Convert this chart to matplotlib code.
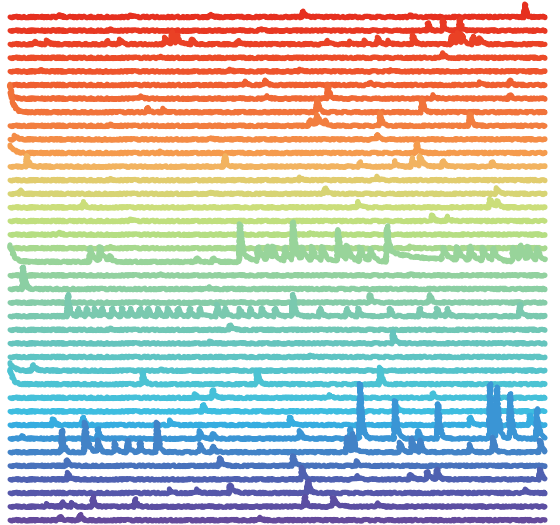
import numpy as np
import matplotlib
matplotlib.use("Agg")
import matplotlib.pyplot as plt
from matplotlib.colors import LinearSegmentedColormap

# ---------------- data: detected transients per cell (frame, amplitude, decay) -------------
n_frames = 536
cell00 = [(50, 2, 2), (120, 2, 2), (200, 3, 2), (293, 6, 2), (400, 2, 2), (515, 13, 1.5)]
cell01 = [(100, 2, 2), (250, 2, 2), (418, 8, 1.5), (433, 11, 1.5), (450, 12, 1.5)]
cell02 = [(25, 3, 2), (37, 4, 2), (97, 4, 2), (110, 5, 2), (155, 7, 3), (162, 12, 2), (167, 8, 3),
          (182, 5, 2), (228, 4, 2), (317, 4, 2), (340, 3, 2), (355, 4, 2), (368, 7, 2), (378, 4, 2),
          (403, 9, 2), (442, 9, 2), (447, 11, 2), (452, 9, 2), (463, 8, 2), (470, 6, 2)]
cell03 = [(150, 2, 2), (433, 5, 2)]
cell04 = [(30, 2, 2), (220, 2, 2), (290, 2, 2), (380, 2, 2)]
cell05 = [(235, 4, 2), (255, 5, 2), (360, 3, 2), (470, 3, 2), (500, 5, 2)]
cell06 = [(0, 6, 3), (130, 3, 2), (257, 3, 2), (318, 14, 2), (423, 4, 2), (500, 4, 2)]
cell07 = [(0, 28, 3), (137, 5, 2), (153, 4, 2), (307, 13, 2), (412, 13, 2)]
cell08 = [(100, 2, 2), (300, 6, 4), (307, 10, 3), (315, 5, 2), (370, 13, 2), (460, 12, 2)]
cell09 = [(5, 4, 3), (200, 2, 2), (367, 5, 2)]
cell10 = [(0, 8, 4), (150, 2, 2), (407, 10, 2)]
cell11 = [(17, 11, 2), (215, 11, 2), (350, 5, 2), (385, 6, 2), (402, 9, 3), (410, 10, 3),
          (433, 6, 2), (482, 5, 2)]
cell12 = [(100, 2, 2), (290, 3, 2), (367, 4, 2)]
cell13 = [(10, 4, 2), (200, 2, 2), (315, 6, 2), (487, 6, 2)]
cell14 = [(73, 6, 2), (348, 6, 2), (480, 8, 3), (487, 6, 2)]
cell15 = [(120, 2, 2), (422, 6, 2), (437, 5, 2)]
cell16 = [(50, 2, 2), (300, 2, 2)]
cell17 = [(100, 2, 2), (400, 2, 2)]
cell18 = [(0, 17, 4), (80, 14, 4), (90, 14, 4), (100, 5, 2), (187, 4, 2), (203, 4, 2),
          (230, 28, 2), (230, 10, 8), (248, 14, 4), (257, 14, 4), (263, 12, 4), (275, 14, 4),
          (283, 28, 2), (283, 10, 6), (292, 12, 4), (302, 14, 4), (312, 14, 4), (328, 22, 2),
          (328, 10, 6), (337, 14, 4), (350, 14, 4), (360, 12, 4), (377, 26, 2), (377, 10, 40),
          (433, 12, 4), (447, 13, 4), (460, 14, 4), (473, 13, 4), (483, 12, 4), (503, 14, 4),
          (510, 14, 4), (518, 13, 4), (527, 12, 4)]
cell19 = [(150, 2, 2), (400, 2, 2)]
cell20 = [(13, 22, 2), (200, 2, 2)]
cell21 = [(360, 8, 2), (420, 8, 2)]
cell22 = [(58, 22, 2), (68, 8, 2), (77, 8, 2), (85, 8, 2), (92, 8, 2), (102, 8, 2), (112, 8, 2),
          (120, 8, 2), (130, 8, 2), (138, 8, 2), (148, 8, 2), (158, 8, 2), (168, 8, 2), (180, 8, 2),
          (190, 8, 2), (207, 12, 2), (215, 8, 2), (230, 8, 2), (240, 8, 2), (252, 8, 2), (265, 8, 2),
          (283, 22, 2), (310, 8, 2), (337, 8, 2), (348, 8, 2), (380, 8, 2), (410, 8, 2), (427, 8, 2),
          (437, 8, 2), (510, 12, 2)]
cell23 = [(100, 2, 2), (220, 5, 2)]
cell24 = [(200, 2, 2), (383, 12, 2)]
cell25 = [(300, 2, 2)]
cell26 = [(0, 8, 4), (23, 6, 3), (150, 2, 2)]
cell27 = [(0, 15, 3), (133, 12, 2), (247, 14, 2), (370, 17, 2)]
cell28 = [(185, 4, 2), (203, 8, 2), (320, 3, 2), (423, 5, 2)]
cell29 = [(193, 7, 2), (387, 6, 2)]
cell30 = [(43, 6, 2), (73, 8, 2), (160, 5, 2), (280, 8, 2), (460, 8, 2), (520, 10, 2)]
cell31 = [(12, 3, 2), (88, 10, 2), (190, 8, 2), (203, 5, 2), (290, 8, 2), (340, 10, 2),
          (350, 55, 2), (385, 38, 2), (408, 8, 2), (428, 35, 2), (480, 55, 2), (487, 50, 2),
          (500, 45, 2), (527, 30, 2)]
cell32 = [(52, 22, 2), (75, 30, 3), (88, 12, 2), (105, 10, 2), (118, 12, 2), (130, 10, 2),
          (147, 30, 2), (190, 8, 2), (203, 6, 2), (337, 15, 2), (343, 18, 2), (390, 10, 2),
          (402, 14, 2), (410, 12, 2), (460, 8, 2), (483, 15, 2), (530, 12, 2)]
cell33 = [(57, 6, 2), (210, 8, 2), (283, 10, 2), (347, 5, 2)]
cell34 = [(58, 7, 2), (292, 12, 2), (347, 4, 2), (400, 5, 3), (417, 8, 3), (427, 10, 2), (530, 10, 2)]
cell35 = [(160, 4, 2), (187, 4, 2), (220, 8, 4), (298, 12, 2), (515, 4, 2)]
cell36 = [(37, 3, 2), (52, 5, 2), (62, 4, 2), (83, 10, 2), (125, 8, 2), (295, 10, 2), (323, 9, 4),
          (367, 4, 2)]
cell37 = [(50, 4, 2), (70, 6, 2), (250, 3, 2)]

cells = [cell00, cell01, cell02, cell03, cell04, cell05, cell06, cell07, cell08, cell09,
         cell10, cell11, cell12, cell13, cell14, cell15, cell16, cell17, cell18, cell19,
         cell20, cell21, cell22, cell23, cell24, cell25, cell26, cell27, cell28, cell29,
         cell30, cell31, cell32, cell33, cell34, cell35, cell36, cell37]

# ---------------- style -------------------------------------------------------------------
OFFSET = 13.6
anchors = [(0.000, "#e6301f"), (0.108, "#ee552c"), (0.216, "#f27e3f"), (0.270, "#f59a4d"),
           (0.297, "#f3b25f"), (0.324, "#e2cb6e"), (0.378, "#cadf7a"), (0.432, "#b5de82"),
           (0.486, "#98d49a"), (0.568, "#85cca8"), (0.649, "#66c4bc"), (0.730, "#4cc3d3"),
           (0.784, "#3dbde0"), (0.811, "#36aee0"), (0.838, "#3a96d6"), (0.865, "#4284c8"),
           (0.919, "#4e62b2"), (0.973, "#5a4fa3"), (1.000, "#644a9c")]
cmap = LinearSegmentedColormap.from_list("traces", anchors)

fig = plt.figure(figsize=(5.6, 5.25), dpi=100)
ax = fig.add_axes([0, 0, 1, 1])
ax.set_xlim(-10, 550)
ax.set_ylim(17 - 525, 17)
ax.axis("off")

t = np.arange(n_frames)
n = len(cells)
for i, ev in enumerate(cells):
    trace = np.zeros(n_frames)
    for t0, amp, tau in ev:
        m = t >= t0
        trace[m] += amp * np.exp(-(t[m] - t0) / tau)
    line, = ax.plot(t, trace - i * OFFSET, color=cmap(i / (n - 1)), lw=3.6,
                    solid_capstyle="round", solid_joinstyle="round")
    line.set_sketch_params(scale=0.9, length=3, randomness=3)

fig.savefig("out.png", dpi=100)
